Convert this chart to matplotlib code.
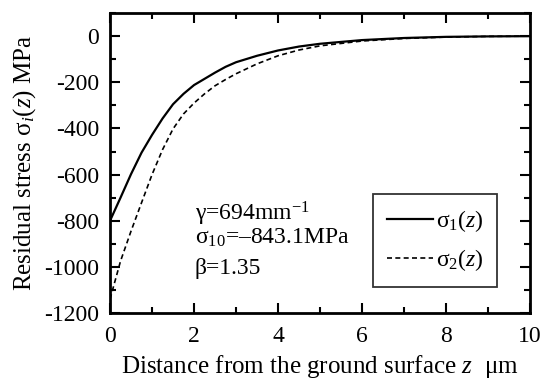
import matplotlib
matplotlib.use('Agg')
import matplotlib.pyplot as plt
from matplotlib.ticker import MultipleLocator

plt.rcParams['font.family'] = 'Liberation Serif'
plt.rcParams['mathtext.fontset'] = 'custom'
plt.rcParams['mathtext.rm'] = 'Liberation Serif'
plt.rcParams['mathtext.it'] = 'Liberation Serif:italic'
plt.rcParams['axes.unicode_minus'] = False

# values (z in um, stress in MPa)
z = [0.0, 0.25, 0.5, 0.75, 1.0, 1.25, 1.5, 1.75, 2.0, 2.25, 2.5, 2.75, 3.0,
     3.5, 4.0, 4.5, 5.0, 6.0, 7.0, 8.0, 9.0, 10.0]
sigma1 = [-800, -700, -598, -505, -428, -357, -295, -250, -212, -185, -158,
          -133, -113, -85, -62, -45, -33, -17, -8, -3, -1, 0]
sigma2 = [-1140, -975, -845, -722, -600, -492, -402, -337, -290, -250, -215,
          -188, -163, -120, -85, -60, -42, -21, -10, -4, -1, 0]

fig = plt.figure(figsize=(5.42, 3.85), dpi=100)
ax = fig.add_axes([0.203, 0.187, 0.775, 0.779])

ax.plot(z, sigma1, color='black', lw=1.6, label='σ$_1$($z$)')
ax.plot(z, sigma2, color='black', lw=1.2, dashes=(3, 2), label='σ$_2$($z$)')

ax.set_xlim(0, 10)
ax.set_ylim(-1200, 100)
ax.xaxis.set_major_locator(MultipleLocator(2))
ax.xaxis.set_minor_locator(MultipleLocator(1))
ax.yaxis.set_major_locator(MultipleLocator(200))
ax.yaxis.set_minor_locator(MultipleLocator(100))
ax.tick_params(which='both', direction='in', top=True, right=True,
               labelsize=17, width=1.5)
ax.tick_params(which='major', length=7, pad=8)
ax.tick_params(which='minor', length=4)
ax.tick_params(axis='x', which='major', pad=9)
for s in ax.spines.values():
    s.set_linewidth(2)

ax.set_xlabel('Distance from the ground surface $z$  μm', fontsize=18, labelpad=5)
ax.set_ylabel('Residual stress σ$_i$($z$) MPa', fontsize=18, labelpad=4)

ax.text(2.02, -800, 'γ=694mm$^{-1}$', fontsize=17)
ax.text(2.02, -900, 'σ$_{10}$=–843.1MPa', fontsize=17)
ax.text(2.02, -1030, 'β=1.35', fontsize=17)

leg = ax.legend(loc='lower left', bbox_to_anchor=(0.626, 0.087), fontsize=17,
                frameon=True, fancybox=False, handlelength=1.95,
                handletextpad=0.1, labelspacing=0.55, borderpad=0.6,
                borderaxespad=0)
leg.get_frame().set_edgecolor('black')
leg.get_frame().set_linewidth(1.3)

fig.savefig('out.png', dpi=100)
